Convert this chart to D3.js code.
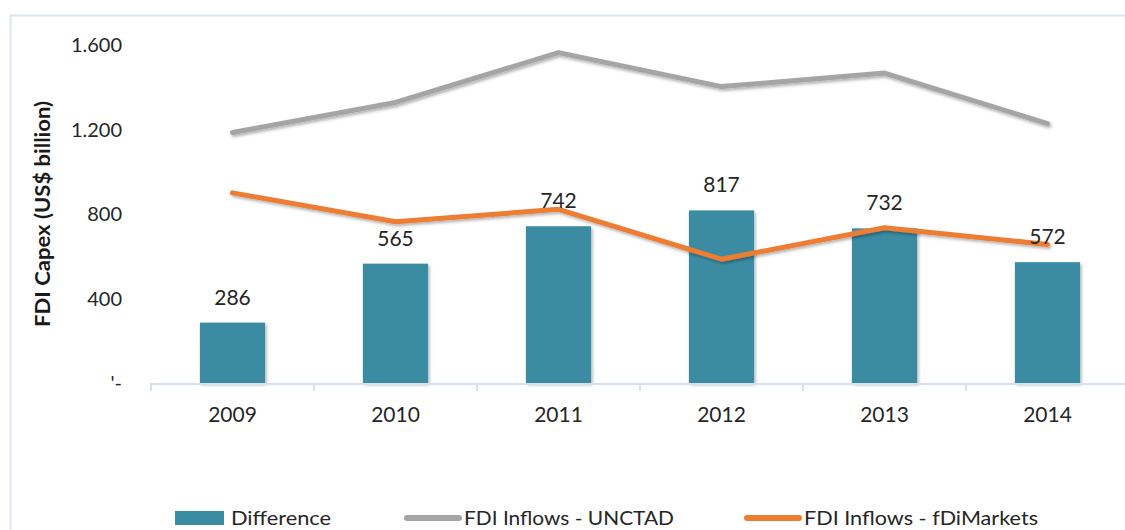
<!DOCTYPE html>
<html>
<head>
<meta charset="utf-8">
<script src="https://cdn.jsdelivr.net/npm/d3@7"></script>
<style>
  html, body { margin: 0; padding: 0; background: #fff; }
  svg { display: block; font-family: Lato, "Open Sans", sans-serif; }
</style>
</head>
<body>
<svg id="chart" width="1125" height="530"></svg>
<script>
const years = ["2009", "2010", "2011", "2012", "2013", "2014"];
const difference = [286, 565, 742, 817, 732, 572];
const unctad = [1186, 1328, 1564, 1403, 1467, 1228];
const fdiMarkets = [900, 763, 822, 586, 735, 656];
const yTicks = [0, 400, 800, 1200, 1600];
const yTickLabels = ["'-", "400", "800", "1.200", "1.600"];
const seriesNames = ["Difference", "FDI Inflows - UNCTAD", "FDI Inflows - fDiMarkets"];
const colors = { bar: "#3a8ca3", unctad: "#a5a5a5", fdi: "#ed7d31" };

const svg = d3.select("#chart");

// drop shadow
const defs = svg.append("defs");
const f = defs.append("filter").attr("id", "shadow")
  .attr("x", "-10%").attr("y", "-10%").attr("width", "130%").attr("height", "140%");
f.append("feDropShadow").attr("dx", 1.5).attr("dy", 2).attr("stdDeviation", 1.5)
  .attr("flood-color", "#000").attr("flood-opacity", 0.3);

// frame
svg.append("rect").attr("x", 10.5).attr("y", 15.5).attr("width", 1200).attr("height", 600)
  .attr("fill", "none").attr("stroke", "#dce6f2").attr("stroke-width", 2);

const x = d3.scaleBand().domain(years).range([151, 1129]).padding(0);
const y = d3.scaleLinear().domain([0, 1600]).range([383, 45]);
const barW = x.bandwidth() * 0.4;
const cx = d => x(d) + x.bandwidth() / 2;

// y tick labels
svg.append("g").selectAll("text").data(yTicks).join("text")
  .attr("x", 122).attr("y", d => y(d)).attr("dy", "0.35em")
  .attr("text-anchor", "end").attr("font-size", 20).attr("fill", "#262626")
  .text((d, i) => yTickLabels[i]);

// y axis title
svg.append("text")
  .attr("transform", "translate(50,214) rotate(-90)")
  .attr("text-anchor", "middle").attr("font-size", 20).attr("font-weight", "bold")
  .attr("fill", "#1a1a1a")
  .attr("textLength", 226).attr("lengthAdjust", "spacingAndGlyphs")
  .text("FDI Capex (US$ billion)");

// bars
svg.append("g").selectAll("rect").data(years).join("rect")
  .attr("x", d => cx(d) - barW / 2)
  .attr("width", barW)
  .attr("y", (d, i) => y(difference[i]))
  .attr("height", (d, i) => y(0) - y(difference[i]))
  .attr("fill", colors.bar)
  .attr("filter", "url(#shadow)");

// x axis
const xAxis = svg.append("g").attr("transform", "translate(0,383.5)")
  .call(d3.axisBottom(x).tickSize(0).tickFormat(""));
xAxis.select(".domain").attr("stroke", "#d5e1ef").attr("stroke-width", 2);
const boundaries = years.map(d => x(d)).concat([x.range()[1]]);
svg.append("g").selectAll("line").data(boundaries).join("line")
  .attr("x1", d => d).attr("x2", d => d).attr("y1", 383).attr("y2", 391)
  .attr("stroke", "#d5e1ef").attr("stroke-width", 2);
svg.append("g").selectAll("text").data(years).join("text")
  .attr("x", d => cx(d)).attr("y", 415).attr("dy", "0.35em")
  .attr("text-anchor", "middle").attr("font-size", 21).attr("fill", "#262626")
  .text(d => d);

// lines
const line = d3.line().x((d, i) => cx(years[i])).y(d => y(d));
svg.append("path").datum(unctad).attr("d", line)
  .attr("fill", "none").attr("stroke", colors.unctad).attr("stroke-width", 5)
  .attr("stroke-linecap", "round").attr("stroke-linejoin", "round")
  .attr("filter", "url(#shadow)");
svg.append("path").datum(fdiMarkets).attr("d", line)
  .attr("fill", "none").attr("stroke", colors.fdi).attr("stroke-width", 5)
  .attr("stroke-linecap", "round").attr("stroke-linejoin", "round")
  .attr("filter", "url(#shadow)");

// data labels
svg.append("g").selectAll("text").data(years).join("text")
  .attr("x", d => cx(d)).attr("y", (d, i) => y(difference[i]) - 18)
  .attr("text-anchor", "middle").attr("font-size", 21).attr("fill", "#262626")
  .text((d, i) => difference[i]);

// legend
const lg = svg.append("g");
lg.append("rect").attr("x", 175).attr("y", 511).attr("width", 49).attr("height", 14)
  .attr("fill", colors.bar);
lg.append("text").attr("x", 231).attr("y", 518).attr("dy", "0.35em")
  .attr("font-size", 20).attr("fill", "#262626")
  .attr("textLength", 100).attr("lengthAdjust", "spacingAndGlyphs").text(seriesNames[0]);
lg.append("line").attr("x1", 407).attr("x2", 459).attr("y1", 518).attr("y2", 518)
  .attr("stroke", colors.unctad).attr("stroke-width", 6).attr("stroke-linecap", "round");
lg.append("text").attr("x", 464).attr("y", 518).attr("dy", "0.35em")
  .attr("font-size", 20).attr("fill", "#262626")
  .attr("textLength", 210).attr("lengthAdjust", "spacingAndGlyphs").text(seriesNames[1]);
lg.append("line").attr("x1", 747).attr("x2", 799).attr("y1", 518).attr("y2", 518)
  .attr("stroke", colors.fdi).attr("stroke-width", 6).attr("stroke-linecap", "round");
lg.append("text").attr("x", 804).attr("y", 518).attr("dy", "0.35em")
  .attr("font-size", 20).attr("fill", "#262626")
  .attr("textLength", 234).attr("lengthAdjust", "spacingAndGlyphs").text(seriesNames[2]);
</script>
</body>
</html>
